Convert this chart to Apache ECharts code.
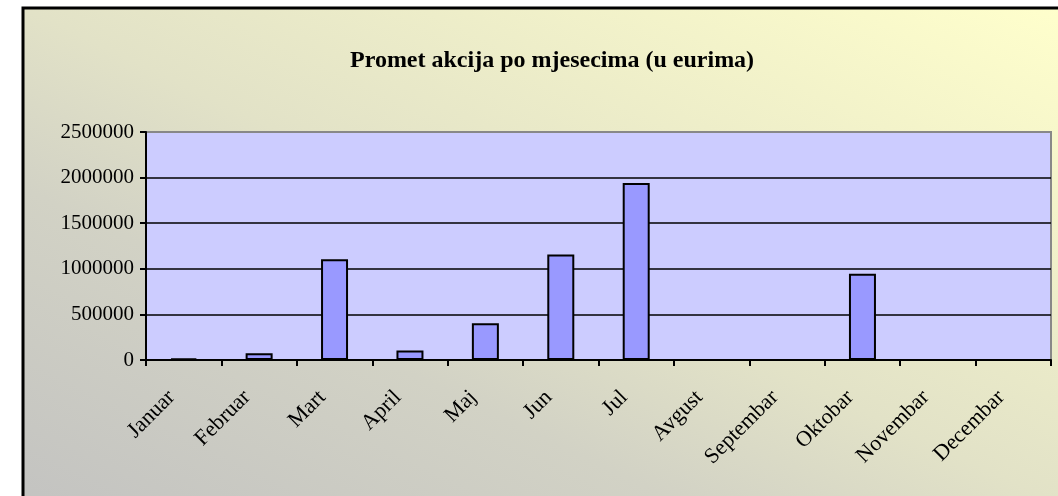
<!DOCTYPE html>
<html lang="hr">
<head>
    <meta charset="UTF-8">
    <title>Promet akcija po mjesecima</title>
    <script src="https://cdn.jsdelivr.net/npm/echarts@6/dist/echarts.min.js"></script>
    <style>
        html, body { margin: 0; padding: 0; background: #fff; }
        #chart { width: 1058px; height: 496px; }
    </style>
</head>
<body>
<div id="chart"></div>
<script>
    // mjeseci i promet (u eurima), očitano sa slike
    var months = ['Januar', 'Februar', 'Mart', 'April', 'Maj', 'Jun', 'Jul', 'Avgust', 'Septembar', 'Oktobar', 'Novembar', 'Decembar'];
    var turnover = [18000, 74000, 1104000, 103000, 402000, 1158000, 1942000, 0, 0, 946000, 0, 0];
    var yTicks = [0, 500000, 1000000, 1500000, 2000000, 2500000];

    var serif = "'Liberation Serif', 'Times New Roman', serif";
    var mychart = echarts.init(document.getElementById('chart'));

    var option = {
        animation: false,
        backgroundColor: '#fff',
        // okvir grafikona s prijelazom boje (sivo dolje lijevo -> žuto gore desno)
        graphic: [{
            type: 'rect',
            z: -10,
            silent: true,
            shape: {x: 23, y: 8, width: 1045, height: 500},
            style: {
                fill: new echarts.graphic.LinearGradient(350, 665, 740, -149, [
                    {offset: 0, color: '#c3c3c1'},
                    {offset: 0.32, color: '#d2d2c5'},
                    {offset: 0.5, color: '#e2e2c7'},
                    {offset: 1, color: '#ffffcc'}
                ], true),
                stroke: '#000',
                lineWidth: 3
            }
        }],
        title: {
            text: 'Promet akcija po mjesecima (u eurima)',
            left: 345,
            top: 44,
            textStyle: {fontFamily: serif, fontSize: 24, fontWeight: 'bold', color: '#000'}
        },
        grid: {
            left: 146, top: 132, right: 7, bottom: 136,
            show: true,
            backgroundColor: '#ccccff',
            borderColor: '#888',
            borderWidth: 2
        },
        xAxis: {
            type: 'category',
            data: months,
            axisLine: {lineStyle: {color: '#000', width: 2}},
            axisTick: {show: true, length: 6, lineStyle: {color: '#000', width: 2}},
            axisLabel: {
                rotate: 45,
                margin: 22,
                padding: [0, 17, 0, 0],
                fontFamily: serif,
                fontSize: 22,
                color: '#000'
            }
        },
        yAxis: {
            type: 'value',
            min: yTicks[0],
            max: yTicks[yTicks.length - 1],
            interval: yTicks[1] - yTicks[0],
            axisLine: {show: true, lineStyle: {color: '#000', width: 2}},
            axisTick: {show: true, length: 6, lineStyle: {color: '#000', width: 2}},
            axisLabel: {
                margin: 12,
                fontFamily: serif,
                fontSize: 21,
                color: '#000',
                formatter: function (v) { return String(v); }
            },
            splitLine: {show: true, showMaxLine: false, lineStyle: {color: '#000', width: 1.5}}
        },
        series: [{
            type: 'bar',
            data: turnover,
            barWidth: 27,
            itemStyle: {color: '#9999ff', borderColor: '#000', borderWidth: 2}
        }]
    };
    mychart.setOption(option);
</script>
</body>
</html>
